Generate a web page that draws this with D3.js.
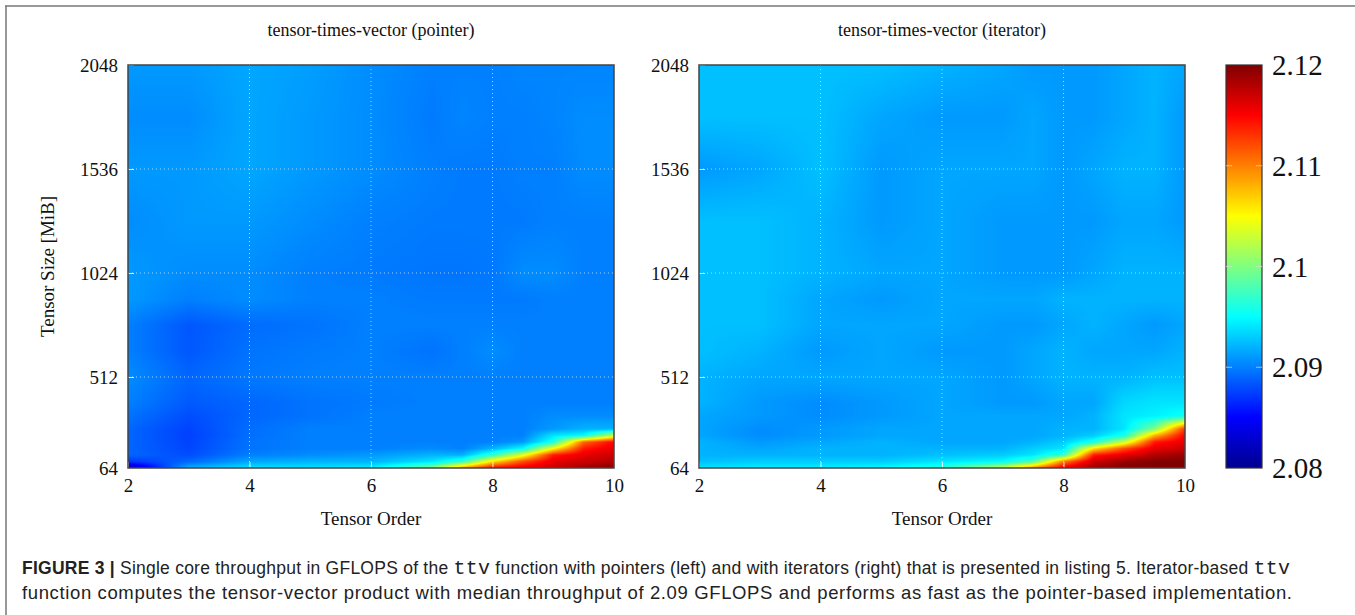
<!DOCTYPE html>
<html>
<head>
<meta charset="utf-8">
<script src="https://cdn.jsdelivr.net/npm/d3@7"></script>
<style>
  body { margin: 0; background: #fff; }
  svg { display: block; }
</style>
</head>
<body>
<svg width="1355" height="615"></svg>
<script>
// grid of the measurements: tensor order (columns) and tensor size in MiB (rows)
const orders = [2, 3, 4, 5, 6, 7, 7.5, 8, 8.5, 9, 9.5, 10];
const sizes = [64, 96, 128, 160, 192, 224, 256, 320, 384, 512, 640, 768, 896, 1024, 1280, 1536, 1792, 2048];

// GFLOPS, one row per size (bottom to top)
const pointerValues = [
  [2.0810, 2.0920, 2.0940, 2.0940, 2.0945, 2.1000, 2.1090, 2.1150, 2.1160, 2.1170, 2.1190, 2.1200],
  [2.0870, 2.0890, 2.0915, 2.0920, 2.0920, 2.0940, 2.0970, 2.1060, 2.1120, 2.1160, 2.1170, 2.1180],
  [2.0890, 2.0880, 2.0900, 2.0905, 2.0910, 2.0920, 2.0920, 2.0970, 2.1040, 2.1140, 2.1160, 2.1170],
  [2.0890, 2.0877, 2.0895, 2.0900, 2.0900, 2.0905, 2.0900, 2.0920, 2.0950, 2.1050, 2.1140, 2.1160],
  [2.0890, 2.0876, 2.0895, 2.0900, 2.0900, 2.0900, 2.0900, 2.0900, 2.0910, 2.0960, 2.1110, 2.1150],
  [2.0890, 2.0875, 2.0893, 2.0900, 2.0900, 2.0900, 2.0900, 2.0900, 2.0900, 2.0940, 2.0950, 2.1030],
  [2.0890, 2.0876, 2.0893, 2.0900, 2.0900, 2.0900, 2.0900, 2.0900, 2.0900, 2.0910, 2.0920, 2.0920],
  [2.0895, 2.0880, 2.0890, 2.0895, 2.0900, 2.0900, 2.0900, 2.0900, 2.0900, 2.0905, 2.0905, 2.0905],
  [2.0900, 2.0885, 2.0890, 2.0895, 2.0898, 2.0900, 2.0900, 2.0900, 2.0900, 2.0900, 2.0900, 2.0900],
  [2.0905, 2.0890, 2.0897, 2.0900, 2.0900, 2.0900, 2.0900, 2.0900, 2.0900, 2.0900, 2.0900, 2.0900],
  [2.0900, 2.0884, 2.0895, 2.0898, 2.0900, 2.0895, 2.0900, 2.0905, 2.0900, 2.0900, 2.0900, 2.0900],
  [2.0900, 2.0884, 2.0892, 2.0895, 2.0900, 2.0900, 2.0900, 2.0900, 2.0900, 2.0900, 2.0900, 2.0900],
  [2.0910, 2.0900, 2.0905, 2.0900, 2.0900, 2.0898, 2.0898, 2.0898, 2.0898, 2.0900, 2.0900, 2.0900],
  [2.0910, 2.0905, 2.0905, 2.0900, 2.0898, 2.0896, 2.0896, 2.0897, 2.0905, 2.0905, 2.0900, 2.0900],
  [2.0905, 2.0910, 2.0910, 2.0905, 2.0900, 2.0898, 2.0898, 2.0898, 2.0898, 2.0900, 2.0900, 2.0900],
  [2.0910, 2.0910, 2.0915, 2.0910, 2.0905, 2.0900, 2.0898, 2.0898, 2.0900, 2.0900, 2.0905, 2.0905],
  [2.0905, 2.0905, 2.0915, 2.0910, 2.0905, 2.0898, 2.0902, 2.0900, 2.0900, 2.0902, 2.0905, 2.0905],
  [2.0910, 2.0910, 2.0915, 2.0912, 2.0905, 2.0900, 2.0900, 2.0900, 2.0902, 2.0902, 2.0902, 2.0902]
];

const iteratorValues = [
  [2.0940, 2.0945, 2.0945, 2.0950, 2.0965, 2.1030, 2.1100, 2.1160, 2.1190, 2.1200, 2.1200, 2.1200],
  [2.0925, 2.0930, 2.0930, 2.0930, 2.0940, 2.0950, 2.0980, 2.1100, 2.1170, 2.1190, 2.1200, 2.1200],
  [2.0920, 2.0920, 2.0920, 2.0920, 2.0925, 2.0930, 2.0940, 2.0970, 2.1140, 2.1160, 2.1180, 2.1190],
  [2.0920, 2.0915, 2.0920, 2.0920, 2.0920, 2.0920, 2.0930, 2.0940, 2.1060, 2.1120, 2.1160, 2.1170],
  [2.0920, 2.0910, 2.0915, 2.0920, 2.0915, 2.0915, 2.0920, 2.0930, 2.0960, 2.1030, 2.1140, 2.1160],
  [2.0915, 2.0905, 2.0910, 2.0915, 2.0915, 2.0915, 2.0915, 2.0920, 2.0930, 2.0960, 2.1080, 2.1150],
  [2.0915, 2.0905, 2.0910, 2.0915, 2.0915, 2.0915, 2.0915, 2.0920, 2.0920, 2.0940, 2.1000, 2.1130],
  [2.0915, 2.0910, 2.0905, 2.0910, 2.0915, 2.0915, 2.0915, 2.0915, 2.0920, 2.0940, 2.0945, 2.0955],
  [2.0920, 2.0910, 2.0905, 2.0910, 2.0915, 2.0910, 2.0910, 2.0915, 2.0915, 2.0935, 2.0940, 2.0940],
  [2.0920, 2.0915, 2.0915, 2.0915, 2.0915, 2.0910, 2.0915, 2.0920, 2.0920, 2.0920, 2.0925, 2.0925],
  [2.0925, 2.0920, 2.0910, 2.0915, 2.0910, 2.0910, 2.0915, 2.0920, 2.0915, 2.0915, 2.0915, 2.0920],
  [2.0925, 2.0925, 2.0915, 2.0915, 2.0915, 2.0910, 2.0910, 2.0915, 2.0920, 2.0915, 2.0910, 2.0915],
  [2.0925, 2.0925, 2.0915, 2.0910, 2.0915, 2.0915, 2.0915, 2.0920, 2.0920, 2.0920, 2.0920, 2.0920],
  [2.0925, 2.0925, 2.0920, 2.0915, 2.0915, 2.0910, 2.0910, 2.0910, 2.0915, 2.0920, 2.0920, 2.0920],
  [2.0925, 2.0925, 2.0920, 2.0910, 2.0915, 2.0910, 2.0910, 2.0910, 2.0910, 2.0915, 2.0915, 2.0910],
  [2.0910, 2.0915, 2.0925, 2.0910, 2.0915, 2.0915, 2.0915, 2.0910, 2.0915, 2.0920, 2.0920, 2.0910],
  [2.0925, 2.0925, 2.0925, 2.0915, 2.0910, 2.0910, 2.0915, 2.0910, 2.0910, 2.0915, 2.0920, 2.0910],
  [2.0925, 2.0925, 2.0925, 2.0925, 2.0920, 2.0915, 2.0910, 2.0910, 2.0910, 2.0915, 2.0920, 2.0915]
];

const xTicks = [2, 4, 6, 8, 10];
const yTicks = [64, 512, 1024, 1536, 2048];
const colorTicks = [2.08, 2.09, 2.1, 2.11, 2.12];
const titles = ["tensor-times-vector (pointer)", "tensor-times-vector (iterator)"];

const svg = d3.select("svg");
const serif = "'Liberation Serif', 'Times New Roman', serif";

// jet colormap
const vMin = 2.08, vMax = 2.12;
const jetStops = [0, 0.125, 0.375, 0.625, 0.875, 1];
const color = d3.scaleLinear()
  .domain(jetStops.map(t => vMin + t * (vMax - vMin)))
  .range(["#00008f", "#0000ff", "#00ffff", "#ffff00", "#ff0000", "#800000"])
  .clamp(true);

// lookup table so we don't parse a color per pixel
const lut = d3.range(1024).map(i => d3.rgb(color(vMin + (vMax - vMin) * i / 1023)));

// outer frame of the figure
svg.append("line").attr("x1", 5).attr("x2", 1355).attr("y1", 6).attr("y2", 6)
  .attr("stroke", "#777").attr("stroke-width", 1.5);
svg.append("line").attr("x1", 6).attr("x2", 6).attr("y1", 6).attr("y2", 615)
  .attr("stroke", "#777").attr("stroke-width", 1.5);

const plotTop = 65, plotBottom = 468;
const panels = [
  {left: 128, right: 614, values: pointerValues},
  {left: 699, right: 1185, values: iteratorValues}
];

function cellValue(values, o, s) {
  let i = Math.min(Math.max(d3.bisectRight(orders, o) - 1, 0), orders.length - 2);
  let j = Math.min(Math.max(d3.bisectRight(sizes, s) - 1, 0), sizes.length - 2);
  const tx = Math.min(Math.max((o - orders[i]) / (orders[i + 1] - orders[i]), 0), 1);
  const ty = Math.min(Math.max((s - sizes[j]) / (sizes[j + 1] - sizes[j]), 0), 1);
  const a = values[j][i], b = values[j][i + 1], c = values[j + 1][i], d = values[j + 1][i + 1];
  return (a * (1 - tx) + b * tx) * (1 - ty) + (c * (1 - tx) + d * tx) * ty;
}

panels.forEach((p, k) => {
  const x = d3.scaleLinear().domain([2, 10]).range([p.left, p.right]);
  const y = d3.scaleLinear().domain([64, 2048]).range([plotBottom, plotTop]);
  const w = p.right - p.left, h = plotBottom - plotTop;

  // shaded surface, painted on a canvas then placed in the svg
  const canvas = document.createElement("canvas");
  canvas.width = w; canvas.height = h;
  const ctx = canvas.getContext("2d");
  const img = ctx.createImageData(w, h);
  for (let py = 0; py < h; py++) {
    const s = y.invert(plotTop + py + 0.5);
    for (let px = 0; px < w; px++) {
      const o = x.invert(p.left + px + 0.5);
      const v = cellValue(p.values, o, s);
      const idx = Math.round(Math.min(Math.max((v - vMin) / (vMax - vMin), 0), 1) * 1023);
      const c = lut[idx];
      const n = (py * w + px) * 4;
      img.data[n] = c.r; img.data[n + 1] = c.g; img.data[n + 2] = c.b; img.data[n + 3] = 255;
    }
  }
  ctx.putImageData(img, 0, 0);
  svg.append("image")
    .attr("x", p.left).attr("y", plotTop).attr("width", w).attr("height", h)
    .attr("preserveAspectRatio", "none")
    .attr("href", canvas.toDataURL());

  const g = svg.append("g");

  // dotted grid
  g.selectAll(".gx").data(xTicks.slice(1, -1)).enter().append("line")
    .attr("x1", d => x(d)).attr("x2", d => x(d)).attr("y1", plotTop).attr("y2", plotBottom)
    .attr("stroke", "#e8e8e8").attr("stroke-opacity", 0.75).attr("stroke-width", 1)
    .attr("stroke-dasharray", "1,3");
  g.selectAll(".gy").data(yTicks.slice(1, -1)).enter().append("line")
    .attr("x1", p.left).attr("x2", p.right).attr("y1", d => y(d)).attr("y2", d => y(d))
    .attr("stroke", "#e8e8e8").attr("stroke-opacity", 0.75).attr("stroke-width", 1)
    .attr("stroke-dasharray", "1,3");

  // axes with inward white ticks
  const xAxis = g.append("g").attr("transform", `translate(0,${plotBottom})`)
    .call(d3.axisBottom(x).tickValues(xTicks).tickSize(-6).tickPadding(14).tickFormat(d3.format("d")));
  const yAxis = g.append("g").attr("transform", `translate(${p.left},0)`)
    .call(d3.axisLeft(y).tickValues(yTicks).tickSize(-6).tickPadding(10).tickFormat(d3.format("d")));
  [xAxis, yAxis].forEach(a => {
    a.select(".domain").remove();
    a.selectAll(".tick line").attr("stroke", "#fff").attr("stroke-opacity", 0.8);
    a.selectAll(".tick text").attr("font-family", serif).attr("font-size", 19).attr("fill", "#111");
  });
  xAxis.selectAll(".tick text").attr("dy", "0.5em");

  g.append("rect").attr("x", p.left).attr("y", plotTop).attr("width", w).attr("height", h)
    .attr("fill", "none").attr("stroke", "#444").attr("stroke-width", 1.5);

  g.append("text").attr("x", (p.left + p.right) / 2).attr("y", 36)
    .attr("text-anchor", "middle").attr("font-family", serif).attr("font-size", 18)
    .attr("fill", "#111").text(titles[k]);

  g.append("text").attr("x", (p.left + p.right) / 2).attr("y", 525)
    .attr("text-anchor", "middle").attr("font-family", serif).attr("font-size", 19)
    .attr("fill", "#111").text("Tensor Order");

  if (k === 0) {
    g.append("text").attr("transform", `translate(54,${(plotTop + plotBottom) / 2}) rotate(-90)`)
      .attr("text-anchor", "middle").attr("font-family", serif).attr("font-size", 19)
      .attr("fill", "#111").text("Tensor Size [MiB]");
  }
});

// colorbar
const cbLeft = 1226, cbRight = 1262;
const cy = d3.scaleLinear().domain([vMin, vMax]).range([plotBottom, plotTop]);
const grad = svg.append("defs").append("linearGradient").attr("id", "jet")
  .attr("x1", 0).attr("x2", 0).attr("y1", 1).attr("y2", 0);
grad.selectAll("stop").data(jetStops).enter().append("stop")
  .attr("offset", d => d)
  .attr("stop-color", d => color(vMin + d * (vMax - vMin)));
svg.append("rect").attr("x", cbLeft).attr("y", plotTop).attr("width", cbRight - cbLeft).attr("height", plotBottom - plotTop)
  .attr("fill", "url(#jet)").attr("stroke", "#333").attr("stroke-width", 1.2);
const cb = svg.append("g");
cb.selectAll(".cbt").data(colorTicks.slice(1, -1)).enter().append("g").each(function(d) {
  const t = d3.select(this);
  t.append("line").attr("x1", cbLeft).attr("x2", cbLeft + 6).attr("y1", cy(d)).attr("y2", cy(d))
    .attr("stroke", "#ddd").attr("stroke-opacity", 0.7);
  t.append("line").attr("x1", cbRight - 6).attr("x2", cbRight).attr("y1", cy(d)).attr("y2", cy(d))
    .attr("stroke", "#ddd").attr("stroke-opacity", 0.7);
});
cb.selectAll("text").data(colorTicks).enter().append("text")
  .attr("x", 1272).attr("y", d => cy(d)).attr("dy", "0.35em")
  .attr("font-family", serif).attr("font-size", 29).attr("fill", "#111")
  .text(d => d3.format("")(d));

// caption
const sans = "'Liberation Sans', Arial, sans-serif";
const mono = "'Liberation Mono', 'DejaVu Sans Mono', monospace";
const cap1 = svg.append("text").attr("x", 22).attr("y", 574)
  .attr("font-family", sans).attr("font-size", 17.5).attr("fill", "#222")
  .attr("textLength", 1268).attr("lengthAdjust", "spacing");
cap1.append("tspan").attr("font-weight", "bold").text("FIGURE 3 | ");
cap1.append("tspan").text("Single core throughput in GFLOPS of the ");
cap1.append("tspan").attr("font-family", mono).attr("font-size", 20).text("ttv");
cap1.append("tspan").text(" function with pointers (left) and with iterators (right) that is presented in listing 5. Iterator-based ");
cap1.append("tspan").attr("font-family", mono).attr("font-size", 20).text("ttv");
svg.append("text").attr("x", 22).attr("y", 599)
  .attr("font-family", sans).attr("font-size", 18.5).attr("fill", "#222")
  .attr("textLength", 1270).attr("lengthAdjust", "spacing")
  .text("function computes the tensor-vector product with median throughput of 2.09 GFLOPS and performs as fast as the pointer-based implementation.");
</script>
</body>
</html>
